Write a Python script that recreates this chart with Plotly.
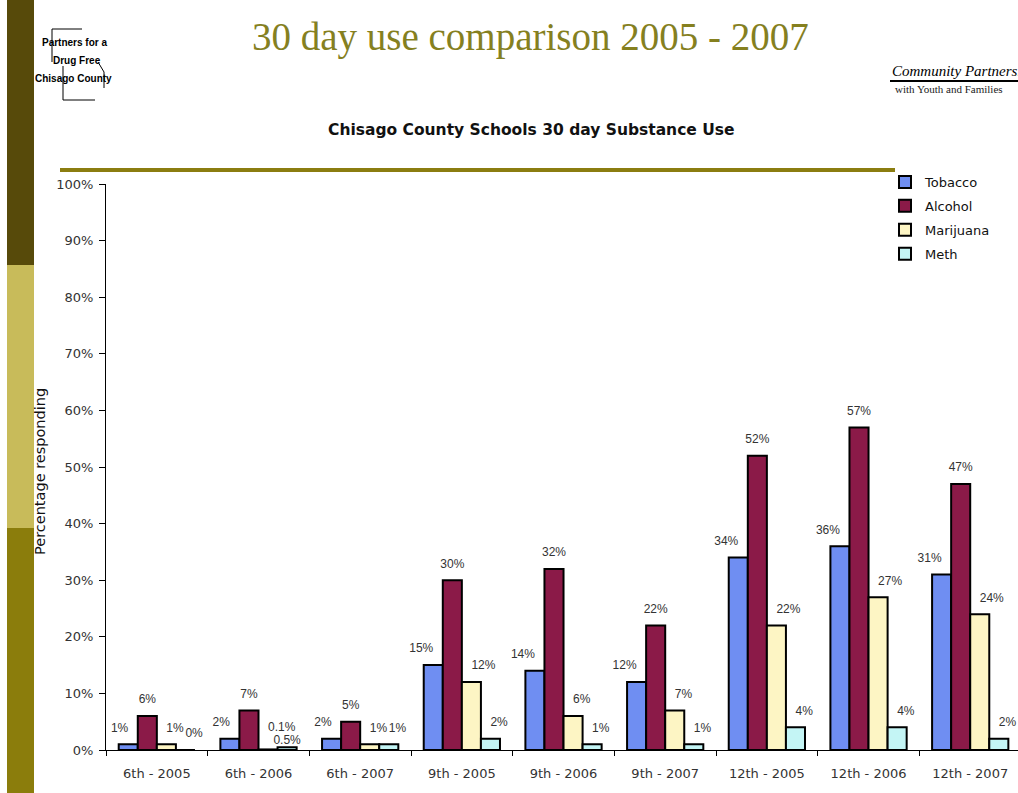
import plotly.graph_objects as go

categories = ["6th - 2005", "6th - 2006", "6th - 2007", "9th - 2005", "9th - 2006",
              "9th - 2007", "12th - 2005", "12th - 2006", "12th - 2007"]
tobacco = [1, 2, 2, 15, 14, 12, 34, 36, 31]
alcohol = [6, 7, 5, 30, 32, 22, 52, 57, 47]
marijuana = [1, 0.1, 1, 12, 6, 7, 22, 27, 24]
meth = [0, 0.5, 1, 2, 1, 1, 4, 4, 2]
y_ticks = [0, 10, 20, 30, 40, 50, 60, 70, 80, 90, 100]
y_tick_labels = [f"{v}%" for v in y_ticks]

# the page body margin is removed (see post_script), so the figure fills the window
OX, OY = 0, 0
W, H = 1018, 793
L, R, T, B = 106, 0, 184, 43
PW, PH = W - L - R, H - T - B


def px(x):
    return (x - OX - L) / PW


def py(y):
    return (H - B - (y - OY)) / PH


SANS = "DejaVu Sans, Verdana, sans-serif"
RAISED = "%{text}<br> <br> "
HALF = "%{text}<br> "
LOW = "%{text}"

label_styles = {
    "Tobacco": lambda v: (RAISED, "middle left"),
    "Alcohol": lambda v: (RAISED, "middle center"),
    "Marijuana": lambda v: (HALF, "top right") if 0 < v < 1 else (RAISED, "middle right"),
    "Meth": lambda v: (LOW, "top center") if 0 < v < 1 else (RAISED, "middle right"),
}

series = [
    ("Tobacco", tobacco, "#6f8ef2"),
    ("Alcohol", alcohol, "#8b1a48"),
    ("Marijuana", marijuana, "#fdf5c4"),
    ("Meth", meth, "#c4f5f5"),
]

fig = go.Figure()
for name, vals, col in series:
    fig.add_trace(go.Bar(
        name=name, x=categories, y=vals,
        marker=dict(color=col, line=dict(color="#000000", width=2)),
        offsetgroup=name, alignmentgroup="a",
        legendgroup=name,
    ))
for name, vals, col in series:
    styles = [label_styles[name](v) for v in vals]
    fig.add_trace(go.Scatter(
        x=categories, y=vals, mode="text",
        text=[f"{v}%" for v in vals],
        texttemplate=[s[0] for s in styles],
        textposition=[s[1] for s in styles],
        textfont=dict(family="Arial, Liberation Sans, sans-serif", size=12, color="#333333"),
        offsetgroup=name, alignmentgroup="a",
        showlegend=False, hoverinfo="skip", cliponaxis=False,
    ))

shapes = [
    dict(type="rect", xref="paper", yref="paper", x0=px(7), x1=px(34), y0=py(0), y1=py(265),
         fillcolor="#574a0a", line=dict(width=0), layer="below"),
    dict(type="rect", xref="paper", yref="paper", x0=px(7), x1=px(34), y0=py(265), y1=py(528),
         fillcolor="#c8bb5a", line=dict(width=0), layer="below"),
    dict(type="rect", xref="paper", yref="paper", x0=px(7), x1=px(34), y0=py(528), y1=py(800),
         fillcolor="#8b7d0c", line=dict(width=0), layer="below"),
    dict(type="line", xref="paper", yref="paper", x0=px(60), x1=px(895), y0=py(170), y1=py(170),
         line=dict(color="#8b7d10", width=4)),
    dict(type="path", xref="paper", yref="paper",
         path=f"M {px(82)},{py(29)} L {px(52)},{py(29)} L {px(52)},{py(62)}",
         line=dict(color="#000000", width=1)),
    dict(type="path", xref="paper", yref="paper",
         path=f"M {px(63)},{py(66)} L {px(63)},{py(100)} L {px(95)},{py(100)}",
         line=dict(color="#000000", width=1)),
    dict(type="path", xref="paper", yref="paper",
         path=f"M {px(98)},{py(62)} L {px(104)},{py(72)} L {px(104)},{py(88)}",
         line=dict(color="#000000", width=1)),
    dict(type="line", xref="paper", yref="paper", x0=px(890), x1=px(1018), y0=py(81), y1=py(81),
         line=dict(color="#000000", width=2)),
]

annotations = [
    dict(text="30 day use comparison 2005 - 2007", xref="paper", yref="paper",
         x=px(530), y=py(37), xanchor="center", yanchor="middle", showarrow=False,
         font=dict(family="Liberation Serif, Times New Roman, serif", size=39, color="#85801f")),
    dict(text="<b>Chisago County Schools 30 day Substance Use</b>", xref="paper", yref="paper",
         x=px(531), y=py(130), xanchor="center", yanchor="middle", showarrow=False,
         font=dict(family=SANS, size=15.5, color="#111111")),
    dict(text="Percentage responding", xref="paper", yref="paper",
         x=px(40), y=py(472), xanchor="center", yanchor="middle", showarrow=False, textangle=-90,
         font=dict(family=SANS, size=14.5, color="#111111")),
    dict(text="<b>Partners for a</b>", xref="paper", yref="paper",
         x=px(74), y=py(42), xanchor="center", yanchor="middle", showarrow=False,
         font=dict(family="Liberation Sans Narrow, Arial Narrow, sans-serif", size=10, color="#000000")),
    dict(text="<b>Drug Free</b>", xref="paper", yref="paper",
         x=px(77), y=py(60), xanchor="center", yanchor="middle", showarrow=False,
         font=dict(family="Liberation Sans Narrow, Arial Narrow, sans-serif", size=10, color="#000000")),
    dict(text="<b>Chisago County</b>", xref="paper", yref="paper",
         x=px(73), y=py(78), xanchor="center", yanchor="middle", showarrow=False,
         font=dict(family="Liberation Sans Narrow, Arial Narrow, sans-serif", size=10, color="#000000")),
    dict(text="<i>Community Partnerships</i>", xref="paper", yref="paper",
         x=px(890), y=py(71), xanchor="left", yanchor="middle", showarrow=False,
         font=dict(family="Liberation Serif, serif", size=15, color="#000000")),
    dict(text="with Youth and Families", xref="paper", yref="paper",
         x=px(893), y=py(89), xanchor="left", yanchor="middle", showarrow=False,
         font=dict(family="Liberation Serif, serif", size=11, color="#222222")),
]

fig.update_layout(
    width=W, height=H,
    margin=dict(l=L, r=R, t=T, b=B, pad=0),
    paper_bgcolor="#ffffff", plot_bgcolor="#ffffff",
    barmode="group", bargap=0.25, bargroupgap=0,
    scattermode="group", scattergap=0.25,
    showlegend=True,
    legend=dict(x=px(885), y=py(167), xanchor="left", yanchor="top",
                font=dict(family=SANS, size=13, color="#111111"),
                bgcolor="rgba(0,0,0,0)", tracegroupgap=4, itemwidth=30),
    shapes=shapes,
    annotations=annotations,
    xaxis=dict(type="category", range=[-0.5, 8.47], showline=True, linecolor="#000000", linewidth=1,
               ticks="outside", tickson="boundaries", ticklen=5, tickcolor="#000000",
               ticklabelstandoff=11, automargin=False,
               tickfont=dict(family=SANS, size=13, color="#333333"),
               showgrid=False, zeroline=False),
    yaxis=dict(range=[0, 100], tickvals=y_ticks, ticktext=y_tick_labels, showline=True,
               linecolor="#000000", linewidth=1, ticks="outside", ticklen=6, tickcolor="#000000",
               ticklabelstandoff=3, automargin=False,
               tickfont=dict(family=SANS, size=13, color="#333333"),
               showgrid=False, zeroline=False),
)

fig.write_html(
    "out.html",
    config={"displayModeBar": False},
    post_script="document.body.style.margin='0';"
                "document.body.style.overflow='hidden';"
                "document.documentElement.style.overflow='hidden';",
)
